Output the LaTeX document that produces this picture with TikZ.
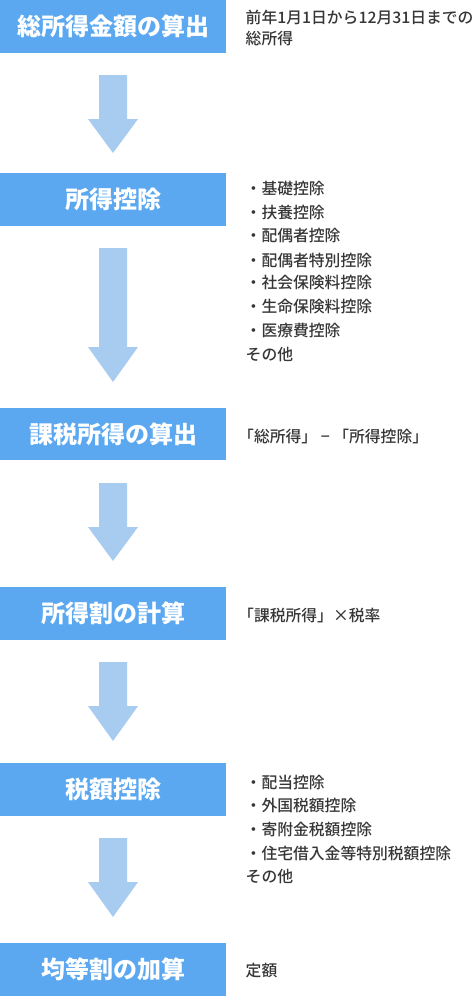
\documentclass[tikz,border=0pt]{standalone}
\usepackage{fontspec}
\setmainfont{Noto Sans CJK JP}
\newfontfamily\notefont{Noto Sans CJK JP Medium}
\definecolor{boxblue}{HTML}{5BA8F0}
\definecolor{arrowblue}{HTML}{A8CBF0}
\definecolor{txtgray}{HTML}{363636}
\newcommand{\flowarrow}[3]{%
  \fill[arrowfill] (99,#1) -- (127,#1) -- (127,#2) -- (138,#2) -- (113,#3) -- (88,#2) -- (99,#2) -- cycle;}
\begin{document}
\begin{tikzpicture}[x=1pt,y=-1pt,
  stepbox/.style={fill=boxblue, text=white, font=\fontsize{24}{28}\selectfont\bfseries,
    minimum width=226pt, minimum height=53pt, inner sep=0pt, anchor=north west},
  note/.style={text=txtgray, font=\notefont\fontsize{15.8}{24}\selectfont, anchor=west, inner sep=0pt},
  arrowfill/.style={fill=arrowblue, draw=none}]
\useasboundingbox (0,0) rectangle (474,996);

% boxes
\node[stepbox] (b1) at (0,0)   {総所得金額の算出};
\node[stepbox] (b2) at (0,173) {所得控除};
\node[stepbox, minimum height=52pt] (b3) at (0,408) {課税所得の算出};
\node[stepbox] (b4) at (0,587) {所得割の計算};
\node[stepbox] (b5) at (0,763) {税額控除};
\node[stepbox] (b6) at (0,943) {均等割の加算};

% arrows
\flowarrow{75}{119}{153}
\flowarrow{248}{347}{382}
\flowarrow{483}{527}{561}
\flowarrow{662}{706}{741}
\flowarrow{838}{882}{917}

% notes
\node[note] (t1a) at (245.5,17) {前年1月1日から12月31日までの};
\node[note] (t1b) at (245.5,39) {総所得};

\node[note] (t2a) at (245.5,188) {・基礎控除};
\node[note] (t2b) at (245.5,212) {・扶養控除};
\node[note] (t2c) at (245.5,236) {・配偶者控除};
\node[note] (t2d) at (245.5,260) {・配偶者特別控除};
\node[note] (t2e) at (245.5,283) {・社会保険料控除};
\node[note] (t2f) at (245.5,307) {・生命保険料控除};
\node[note] (t2g) at (245.5,331) {・医療費控除};
\node[note] (t2h) at (245.5,355) {その他};

\node[note] (t3) at (238,436) {「総所得」 − 「所得控除」};
\node[note] (t4) at (238,615) {「課税所得」×税率};

\node[note] (t5a) at (245.5,782) {・配当控除};
\node[note] (t5b) at (245.5,805) {・外国税額控除};
\node[note] (t5c) at (245.5,829) {・寄附金税額控除};
\node[note] (t5d) at (245.5,853) {・住宅借入金等特別税額控除};
\node[note] (t5e) at (245.5,877) {その他};

\node[note] (t6) at (245.5,971) {定額};
\end{tikzpicture}
\end{document}
